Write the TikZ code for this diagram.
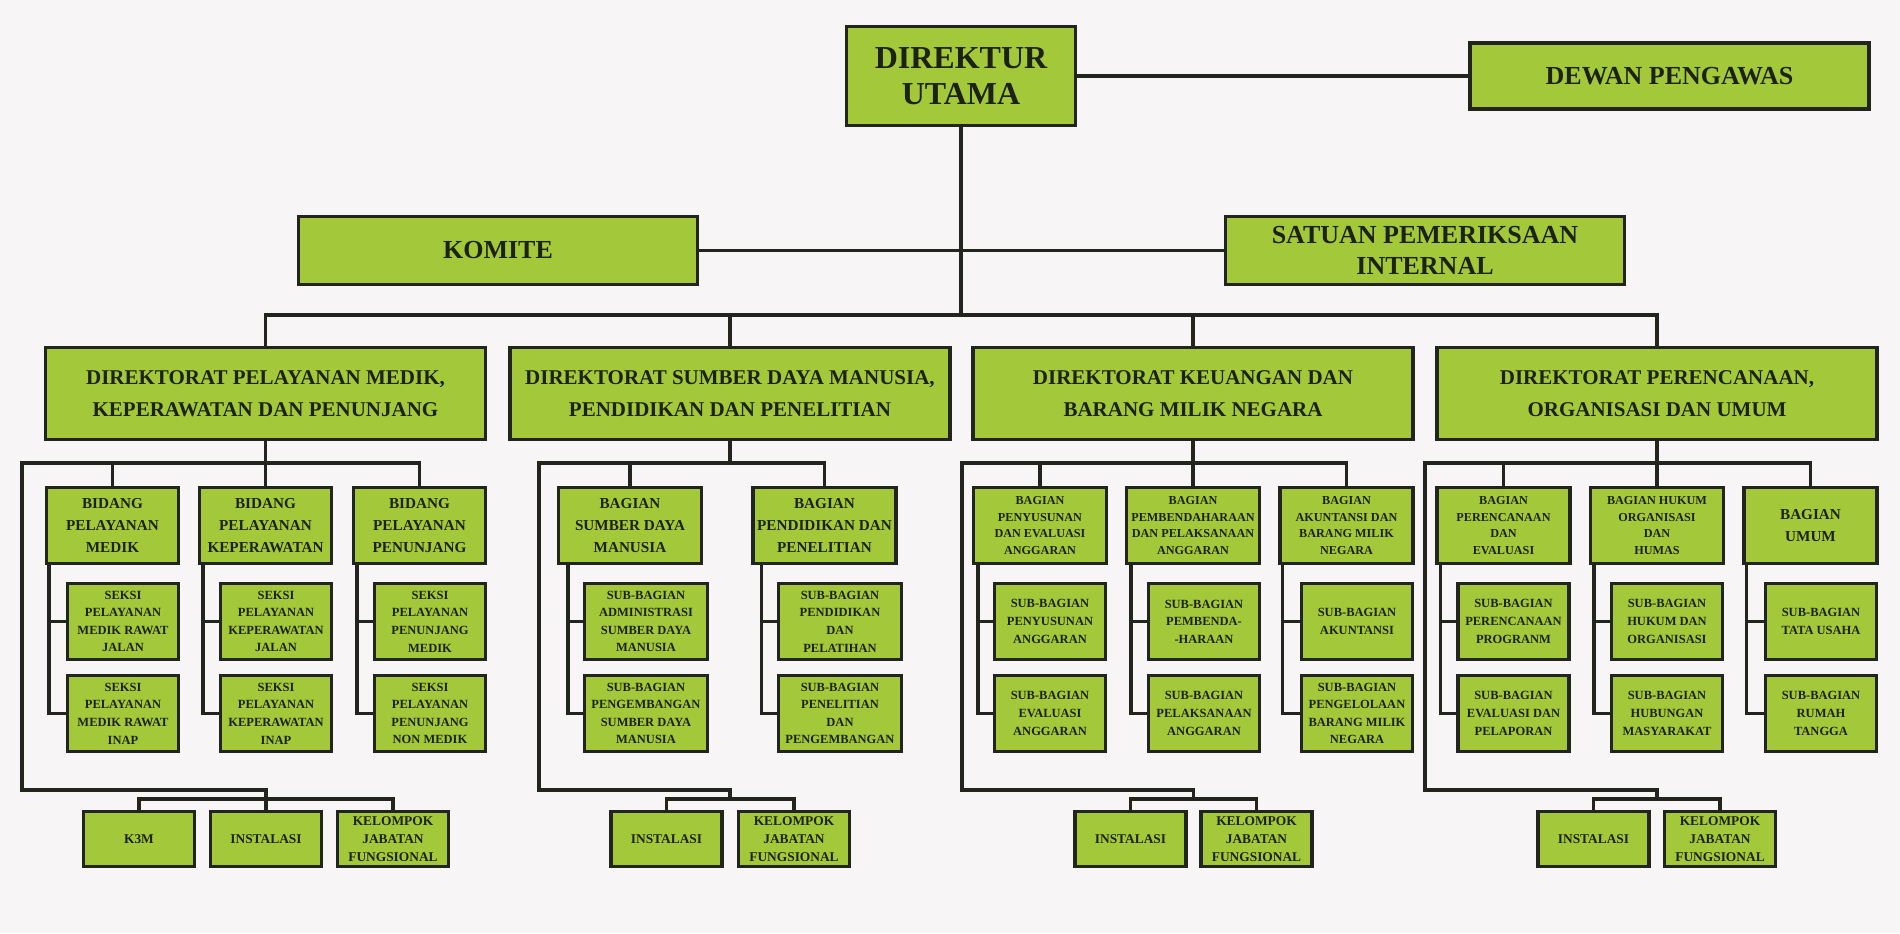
\documentclass[tikz,border=0pt]{standalone}
\usepackage{fontspec}
\setmainfont{Liberation Serif}
\usetikzlibrary{positioning}

\definecolor{boxgreen}{RGB}{163,201,58}
\definecolor{linec}{RGB}{34,36,30}
\definecolor{textc}{RGB}{28,34,20}
\definecolor{bgc}{RGB}{247,245,246}

\begin{document}
\begin{tikzpicture}[x=0.5pt, y=-0.5pt, line width=1.7pt, draw=linec,
    box/.style={draw=linec, fill=boxgreen, line width=1.7pt, align=center, inner sep=0pt, text=textc},
    headbox/.style={box, minimum width=114.4pt, minimum height=49.4pt, font=\fontsize{16pt}{18pt}\selectfont\bfseries},
    topbox/.style={box, minimum width=199.4pt, minimum height=33.9pt, font=\fontsize{13pt}{15.5pt}\selectfont\bfseries},
    dirbox/.style={box, minimum width=219.9pt, minimum height=45.9pt, font=\fontsize{10.5pt}{16pt}\selectfont\bfseries},
    bidbox/.style={box, minimum width=66pt, minimum height=37.9pt, font=\fontsize{7.6pt}{10.8pt}\selectfont\bfseries},
    bagbox/.style={box, minimum width=66.4pt, minimum height=37.9pt, font=\fontsize{6.1pt}{8.35pt}\selectfont\bfseries},
    subbox/.style={box, minimum width=55.4pt, minimum height=37.9pt, font=\fontsize{6.25pt}{8.8pt}\selectfont\bfseries},
    unitbox/.style={box, minimum width=55.4pt, minimum height=27.4pt, font=\fontsize{6.7pt}{9pt}\selectfont\bfseries}]

    \fill[bgc] (0,0) rectangle (1900,933);
    \useasboundingbox (0,0) rectangle (1900,933);

    % pimpinan
    \node[headbox] (dirut) at (961,76) {DIREKTUR\\UTAMA};
    \node[topbox, minimum height=32.9pt] (dewan) at (1669.5,76) {DEWAN PENGAWAS};
    \node[topbox] (komite) at (498,250.5) {KOMITE};
    \node[topbox] (spi) at (1425,250.5) {SATUAN PEMERIKSAAN\\INTERNAL};
    \coordinate (bus) at (961,315);

    % direktorat
    \node[dirbox] (d1) at (265.5,393.5) {DIREKTORAT PELAYANAN MEDIK,\\KEPERAWATAN DAN PENUNJANG};
    \node[dirbox] (d2) at (730,393.5) {DIREKTORAT SUMBER DAYA MANUSIA,\\PENDIDIKAN DAN PENELITIAN};
    \node[dirbox] (d3) at (1193,393.5) {DIREKTORAT KEUANGAN DAN\\BARANG MILIK NEGARA};
    \node[dirbox] (d4) at (1657,393.5) {DIREKTORAT PERENCANAAN,\\ORGANISASI DAN UMUM};

    % direktorat pelayanan medik
    \node[bidbox] (b11) at (112.5,525.5) {BIDANG\\PELAYANAN\\MEDIK};
    \node[bidbox] (b12) at (265.5,525.5) {BIDANG\\PELAYANAN\\KEPERAWATAN};
    \node[bidbox] (b13) at (419.5,525.5) {BIDANG\\PELAYANAN\\PENUNJANG};
    \node[subbox] (s111) at (123,621.5) {SEKSI\\PELAYANAN\\MEDIK RAWAT\\JALAN};
    \node[subbox] (s112) at (123,713.5) {SEKSI\\PELAYANAN\\MEDIK RAWAT\\INAP};
    \node[subbox] (s121) at (276,621.5) {SEKSI\\PELAYANAN\\KEPERAWATAN\\JALAN};
    \node[subbox] (s122) at (276,713.5) {SEKSI\\PELAYANAN\\KEPERAWATAN\\INAP};
    \node[subbox] (s131) at (430,621.5) {SEKSI\\PELAYANAN\\PENUNJANG\\MEDIK};
    \node[subbox] (s132) at (430,713.5) {SEKSI\\PELAYANAN\\PENUNJANG\\NON MEDIK};
    \node[unitbox] (k3m) at (139,839) {K3M};
    \node[unitbox] (ins1) at (266,839) {INSTALASI};
    \node[unitbox] (kjf1) at (393,839) {KELOMPOK\\JABATAN\\FUNGSIONAL};
    \coordinate (k1) at (22,463);
    \coordinate (t1) at (266,790);

    % direktorat sdm
    \node[bidbox, minimum width=71.4pt] (b21) at (630,525.5) {BAGIAN\\SUMBER DAYA\\MANUSIA};
    \node[bidbox, minimum width=71.4pt] (b22) at (824.5,525.5) {BAGIAN\\PENDIDIKAN DAN\\PENELITIAN};
    \node[subbox, minimum width=61.4pt] (s211) at (646,621.5) {SUB-BAGIAN\\ADMINISTRASI\\SUMBER DAYA\\MANUSIA};
    \node[subbox, minimum width=61.4pt] (s212) at (646,713.5) {SUB-BAGIAN\\PENGEMBANGAN\\SUMBER DAYA\\MANUSIA};
    \node[subbox, minimum width=61.4pt] (s221) at (840,621.5) {SUB-BAGIAN\\PENDIDIKAN\\DAN\\PELATIHAN};
    \node[subbox, minimum width=61.4pt] (s222) at (840,713.5) {SUB-BAGIAN\\PENELITIAN\\DAN\\PENGEMBANGAN};
    \node[unitbox] (ins2) at (666.5,839) {INSTALASI};
    \node[unitbox] (kjf2) at (794,839) {KELOMPOK\\JABATAN\\FUNGSIONAL};
    \coordinate (k2) at (539,463);
    \coordinate (t2) at (730,790);

    % direktorat keuangan
    \node[bagbox] (b31) at (1040,525.5) {BAGIAN\\PENYUSUNAN\\DAN EVALUASI\\ANGGARAN};
    \node[bagbox] (b32) at (1193,525.5) {BAGIAN\\PEMBENDAHARAAN\\DAN PELAKSANAAN\\ANGGARAN};
    \node[bagbox] (b33) at (1346.5,525.5) {BAGIAN\\AKUNTANSI DAN\\BARANG MILIK\\NEGARA};
    \node[subbox] (s311) at (1050,621.5) {SUB-BAGIAN\\PENYUSUNAN\\ANGGARAN};
    \node[subbox] (s312) at (1050,713.5) {SUB-BAGIAN\\EVALUASI\\ANGGARAN};
    \node[subbox] (s321) at (1204,621.5) {SUB-BAGIAN\\PEMBENDA-\\-HARAAN};
    \node[subbox] (s322) at (1204,713.5) {SUB-BAGIAN\\PELAKSANAAN\\ANGGARAN};
    \node[subbox] (s331) at (1357,621.5) {SUB-BAGIAN\\AKUNTANSI};
    \node[subbox] (s332) at (1357,713.5) {SUB-BAGIAN\\PENGELOLAAN\\BARANG MILIK\\NEGARA};
    \node[unitbox] (ins3) at (1130.5,839) {INSTALASI};
    \node[unitbox] (kjf3) at (1256.5,839) {KELOMPOK\\JABATAN\\FUNGSIONAL};
    \coordinate (k3) at (962,463);
    \coordinate (t3) at (1193.5,790);

    % direktorat perencanaan
    \node[bagbox] (b41) at (1503.5,525.5) {BAGIAN\\PERENCANAAN\\DAN\\EVALUASI};
    \node[bagbox] (b42) at (1657,525.5) {BAGIAN HUKUM\\ORGANISASI\\DAN\\HUMAS};
    \node[bagbox, font=\fontsize{7.6pt}{10.8pt}\selectfont\bfseries] (b43) at (1810.5,525.5) {BAGIAN\\UMUM};
    \node[subbox] (s411) at (1513.5,621.5) {SUB-BAGIAN\\PERENCANAAN\\PROGRANM};
    \node[subbox] (s412) at (1513.5,713.5) {SUB-BAGIAN\\EVALUASI DAN\\PELAPORAN};
    \node[subbox] (s421) at (1667,621.5) {SUB-BAGIAN\\HUKUM DAN\\ORGANISASI};
    \node[subbox] (s422) at (1667,713.5) {SUB-BAGIAN\\HUBUNGAN\\MASYARAKAT};
    \node[subbox] (s431) at (1821,621.5) {SUB-BAGIAN\\TATA USAHA};
    \node[subbox] (s432) at (1821,713.5) {SUB-BAGIAN\\RUMAH\\TANGGA};
    \node[unitbox] (ins4) at (1593.5,839) {INSTALASI};
    \node[unitbox] (kjf4) at (1720,839) {KELOMPOK\\JABATAN\\FUNGSIONAL};
    \coordinate (k4) at (1425,463);
    \coordinate (t4) at (1657,790);

    % garis pimpinan
    \draw (dirut.east) -- (dewan.west);
    \draw (dirut.south) -- (bus);
    \draw (komite.east) -- (komite.east -| dirut.south);
    \draw (spi.west) -- (spi.west -| dirut.south);
    \draw (d1.north) |- (bus) -| (d4.north);
    \draw (d2.north) -- (d2.north |- bus);
    \draw (d3.north) -- (d3.north |- bus);

    % garis direktorat 1
    \draw (b13.north) |- (k1) |- (t1) -- (ins1.north);
    \draw (b11.north) -- (b11.north |- k1);
    \draw (d1.south) -- (b12.north);
    \draw (k3m.north) -- ++(0,-11) -| (kjf1.north);
    \draw (b11.south west) ++(4,0) |- (s111.west);
    \draw (b11.south west) ++(4,0) |- (s112.west);
    \draw (b12.south west) ++(5,0) |- (s121.west);
    \draw (b12.south west) ++(5,0) |- (s122.west);
    \draw (b13.south west) ++(5,0) |- (s131.west);
    \draw (b13.south west) ++(5,0) |- (s132.west);

    % garis direktorat 2
    \draw (b22.north) |- (k2) |- (t2) -- ++(0,9);
    \draw (b21.north) -- (b21.north |- k2);
    \draw (d2.south) -- (d2.south |- k2);
    \draw (ins2.north) -- ++(0,-11) -| (kjf2.north);
    \draw (b21.south west) ++(11,0) |- (s211.west);
    \draw (b21.south west) ++(11,0) |- (s212.west);
    \draw (b22.south west) ++(10,0) |- (s221.west);
    \draw (b22.south west) ++(10,0) |- (s222.west);

    % garis direktorat 3
    \draw (b33.north) |- (k3) |- (t3) -- ++(0,9);
    \draw (b31.north) -- (b31.north |- k3);
    \draw (d3.south) -- (b32.north);
    \draw (ins3.north) -- ++(0,-11) -| (kjf3.north);
    \draw (b31.south west) ++(6,0) |- (s311.west);
    \draw (b31.south west) ++(6,0) |- (s312.west);
    \draw (b32.south west) ++(6,0) |- (s321.west);
    \draw (b32.south west) ++(6,0) |- (s322.west);
    \draw (b33.south west) ++(4,0) |- (s331.west);
    \draw (b33.south west) ++(4,0) |- (s332.west);

    % garis direktorat 4
    \draw (b43.north) |- (k4) |- (t4) -- ++(0,9);
    \draw (b41.north) -- (b41.north |- k4);
    \draw (d4.south) -- (b42.north);
    \draw (ins4.north) -- ++(0,-11) -| (kjf4.north);
    \draw (b41.south west) ++(5,0) |- (s411.west);
    \draw (b41.south west) ++(5,0) |- (s412.west);
    \draw (b42.south west) ++(5,0) |- (s421.west);
    \draw (b42.south west) ++(5,0) |- (s422.west);
    \draw (b43.south west) ++(4,0) |- (s431.west);
    \draw (b43.south west) ++(4,0) |- (s432.west);
\end{tikzpicture}
\end{document}
